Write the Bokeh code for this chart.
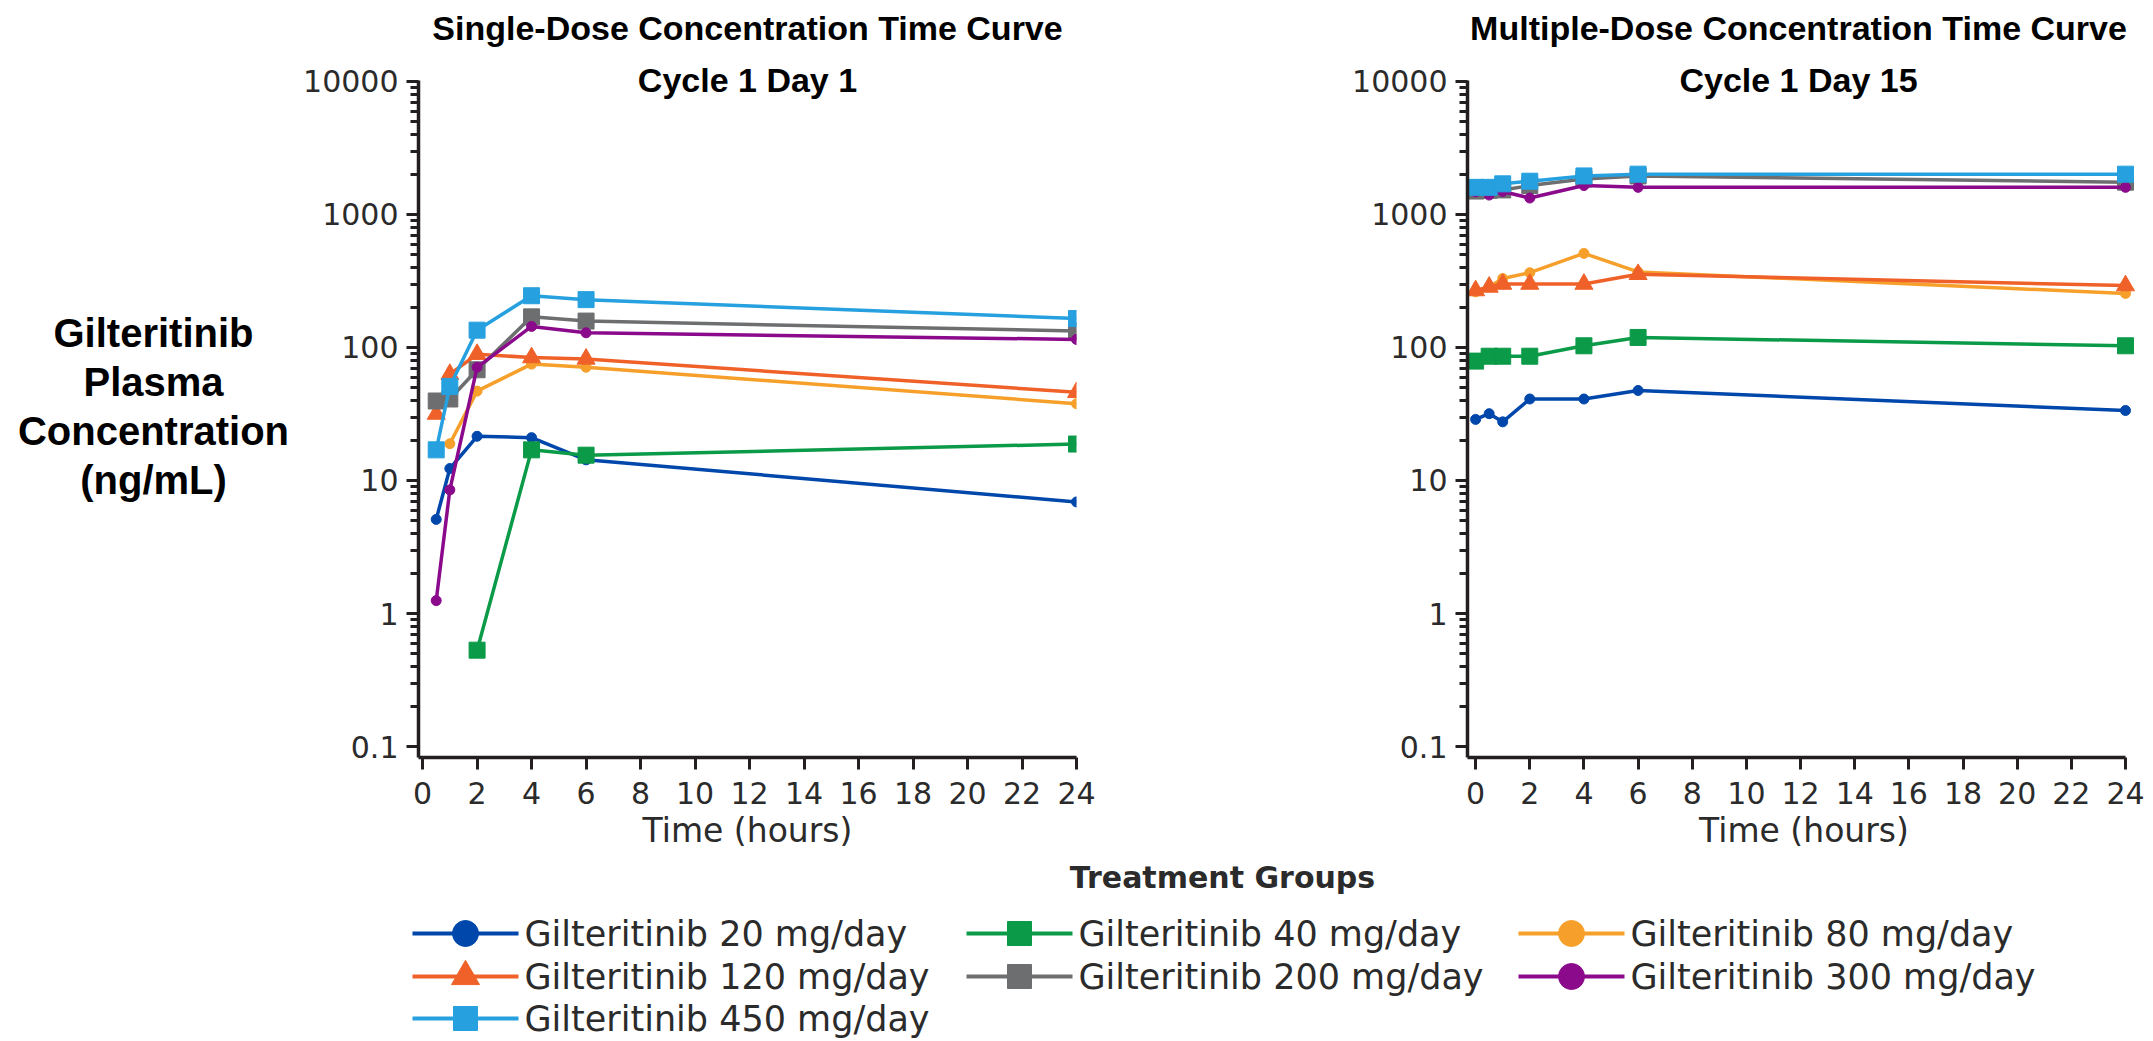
from bokeh.plotting import figure
from bokeh.layouts import column, row
from bokeh.models import Range1d, FixedTicker, CustomJSTickFormatter, Label
from bokeh.core.properties import value
from bokeh.embed import file_html
from bokeh.resources import INLINE

# ---------------- data ----------------
group_labels = ["Gilteritinib 20 mg/day", "Gilteritinib 40 mg/day", "Gilteritinib 80 mg/day",
                "Gilteritinib 120 mg/day", "Gilteritinib 200 mg/day", "Gilteritinib 300 mg/day",
                "Gilteritinib 450 mg/day"]
group_colors = ["#0047AB", "#0B9A48", "#F6A02B", "#EF6128", "#6D6E70", "#8B0A8C", "#26A0DF"]
group_markers = ["circle", "square", "circle", "triangle", "square", "circle", "square"]

# Cycle 1 Day 1 (single dose): time (h) and concentration (ng/mL)
d1_t20 = [0.5, 1, 2, 4, 6, 24]
d1_c20 = [5.1, 12.3, 21.5, 21.0, 14.3, 6.9]
d1_t40 = [2, 4, 6, 24]
d1_c40 = [0.53, 17.0, 15.5, 18.8]
d1_t80 = [1, 2, 4, 6, 24]
d1_c80 = [18.9, 47.0, 75.0, 71.0, 37.8]
d1_t120 = [0.5, 1, 2, 4, 6, 24]
d1_c120 = [31.6, 63.0, 89.0, 84.0, 82.0, 46.0]
d1_t200 = [0.5, 1, 2, 4, 6, 24]
d1_c200 = [39.6, 41.0, 68.0, 170.0, 158.0, 133.0]
d1_t300 = [0.5, 1, 2, 4, 6, 24]
d1_c300 = [1.25, 8.5, 71.0, 144.0, 129.0, 115.0]
d1_t450 = [0.5, 1, 2, 4, 6, 24]
d1_c450 = [17.0, 51.0, 135.0, 245.0, 229.0, 165.0]

# Cycle 1 Day 15 (multiple dose)
d15_t = [0, 0.5, 1, 2, 4, 6, 24]
d15_c20 = [28.8, 31.8, 27.6, 41.0, 41.0, 47.5, 33.6]
d15_c40 = [79.0, 86.0, 86.0, 86.0, 103.0, 119.0, 103.0]
d15_c80 = [262.0, 285.0, 330.0, 365.0, 510.0, 370.0, 255.0]
d15_c120 = [268.0, 285.0, 300.0, 300.0, 300.0, 355.0, 292.0]
d15_c200 = [1500.0, 1520.0, 1530.0, 1650.0, 1850.0, 1950.0, 1750.0]
d15_c300 = [1480.0, 1400.0, 1490.0, 1330.0, 1650.0, 1600.0, 1600.0]
d15_c450 = [1600.0, 1600.0, 1700.0, 1780.0, 1950.0, 2010.0, 2010.0]

x_ticks = [0, 2, 4, 6, 8, 10, 12, 14, 16, 18, 20, 22, 24]
y_ticks = [0.1, 1, 10, 100, 1000, 10000]
y_tick_labels = ["0.1", "1", "10", "100", "1000", "10000"]
y_minor = [m * d for d in [0.1, 1, 10, 100, 1000] for m in range(2, 10)]

day1 = [(d1_t20, d1_c20), (d1_t40, d1_c40), (d1_t80, d1_c80), (d1_t120, d1_c120),
        (d1_t200, d1_c200), (d1_t300, d1_c300), (d1_t450, d1_c450)]
day15 = [(d15_t, d15_c20), (d15_t, d15_c40), (d15_t, d15_c80), (d15_t, d15_c120),
         (d15_t, d15_c200), (d15_t, d15_c300), (d15_t, d15_c450)]

# ---------------- styling / layout ----------------
AX = "#231f20"
TXT = "#2b2b2b"
TICK_FONT = "DejaVu Sans"
BOLD_FONT = "Liberation Sans"
# log range: frame spans page y 0..757, 0.1 at 746, 10000 at 81 (133 px per decade)
Y0, Y1 = 10 ** -1.0827, 10 ** 4.609
AXIS_TOP = 10 ** 4.0075
ROW_H = 860
FRAME_H = 757
LEG_W, LEG_H = 2150, 180
plot_sizes = {"circle": 10, "square": 16, "triangle": 18}
legend_sizes = {"circle": 26, "square": 24, "triangle": 28}


def make_panel(title1, title2, xstart, xend, series, width, mbl, mbr, cx):
    p = figure(width=width, height=ROW_H, x_range=Range1d(xstart, xend), y_range=Range1d(Y0, Y1),
               y_axis_type="log", output_backend="svg", toolbar_location=None,
               min_border_left=mbl, min_border_right=mbr, min_border_top=0,
               min_border_bottom=ROW_H - FRAME_H)
    p.title.visible = False
    p.outline_line_color = None
    p.grid.visible = False
    for (t, c), col, mk in zip(series, group_colors, group_markers):
        p.line(t, c, line_color=col, line_width=3.5)
        p.scatter(t, c, marker=mk, size=plot_sizes[mk], fill_color=col, line_color=col)

    for ax in (p.xaxis[0], p.yaxis[0]):
        ax.axis_line_color = AX
        ax.axis_line_width = 3.5
        ax.major_tick_line_color = AX
        ax.major_tick_line_width = 3
        ax.major_tick_in = 0
        ax.major_tick_out = 12
        ax.major_label_text_font = TICK_FONT
        ax.major_label_text_font_size = "30px"
        ax.major_label_text_color = TXT

    xa = p.xaxis[0]
    xa.bounds = (xstart, 24)
    xa.ticker = FixedTicker(ticks=x_ticks)
    xa.minor_tick_line_color = None
    xa.major_label_standoff = 12
    xa.axis_label = "Time (hours)"
    xa.axis_label_text_font = TICK_FONT
    xa.axis_label_text_font_size = "33px"
    xa.axis_label_text_font_style = "normal"
    xa.axis_label_text_color = TXT
    xa.axis_label_standoff = 4

    ya = p.yaxis[0]
    ya.bounds = (Y0, AXIS_TOP)
    ya.ticker = FixedTicker(ticks=y_ticks, minor_ticks=y_minor)
    ya.formatter = CustomJSTickFormatter(code="return tick < 1 ? tick.toFixed(1) : tick.toFixed(0);")
    ya.major_label_overrides = dict(zip(y_ticks, y_tick_labels))
    ya.minor_tick_line_color = AX
    ya.minor_tick_line_width = 3
    ya.minor_tick_in = 0
    ya.minor_tick_out = 8
    ya.major_label_standoff = 8

    for txt, page_y in ((title1, 27.5), (title2, 79.5)):
        p.add_layout(Label(x=cx, y=FRAME_H - page_y, x_units="screen", y_units="screen", text=txt,
                           text_font=BOLD_FONT, text_font_size="34px", text_font_style="bold",
                           text_align="center", text_baseline="middle", text_color="black"))
    return p


# left panel: page x 300..1308, frame 418..1076 (27.25 px per hour)
left = make_panel("Single-Dose Concentration Time Curve", "Cycle 1 Day 1",
                  -0.15, 24, day1, 1008, 118, 232, 329)
# right panel: page x 1308..2150, axis 1467..2125 (27.08 px per hour), frame runs on to 2140
right = make_panel("Multiple-Dose Concentration Time Curve", "Cycle 1 Day 15",
                   -0.3, 24.554, day15, 842, 159, 10, 331)

# y axis title (horizontal, multi-line) in its own strip; its frame lines up with the panels' frames
ylab = figure(width=300, height=ROW_H, x_range=Range1d(0, 1), y_range=Range1d(0, 1),
              output_backend="svg", toolbar_location=None, min_border=0,
              x_axis_location=None, y_axis_location=None)
ylab.title.visible = False
ylab.outline_line_color = None
ylab.grid.visible = False
ylab_lines = ["Gilteritinib", "Plasma", "Concentration", "(ng/mL)"]
for i, txt in enumerate(ylab_lines):
    ylab.add_layout(Label(x=153, y=FRAME_H - (332 + 49 * i), x_units="screen", y_units="screen",
                          text=txt, text_font=BOLD_FONT, text_font_size="40px",
                          text_font_style="bold", text_align="center",
                          text_baseline="middle", text_color="black"))

# ---------------- legend strip (page y 860..1040) ----------------
leg = figure(width=LEG_W, height=LEG_H, x_range=Range1d(0, LEG_W), y_range=Range1d(0, LEG_H),
             output_backend="svg", toolbar_location=None, min_border=0,
             x_axis_location=None, y_axis_location=None)
leg.title.visible = False
leg.outline_line_color = None
leg.grid.visible = False

col_x = [412, 966, 1518]
row_y = [933, 976, 1018]
for k, (lab, col, mk) in enumerate(zip(group_labels, group_colors, group_markers)):
    r, c = divmod(k, 3)
    x0 = col_x[c]
    yc = ROW_H + LEG_H - row_y[r]
    leg.line([x0, x0 + 106], [yc, yc], line_color=col, line_width=4)
    leg.scatter([x0 + 53], [yc], marker=mk, size=legend_sizes[mk], fill_color=col, line_color=col)
    leg.text([x0 + 112], [yc], text=[lab], text_font=value(TICK_FONT), text_font_size="35px",
             text_color=TXT, text_align="left", text_baseline="middle")

leg.add_layout(Label(x=1222, y=ROW_H + LEG_H - 877, x_units="screen", y_units="screen",
                     text="Treatment Groups", text_font=TICK_FONT, text_font_size="30px",
                     text_font_style="bold", text_align="center", text_baseline="middle",
                     text_color=TXT))

layout = column(row(ylab, left, right), leg)
open("out.html", "w").write(file_html(layout, INLINE))
